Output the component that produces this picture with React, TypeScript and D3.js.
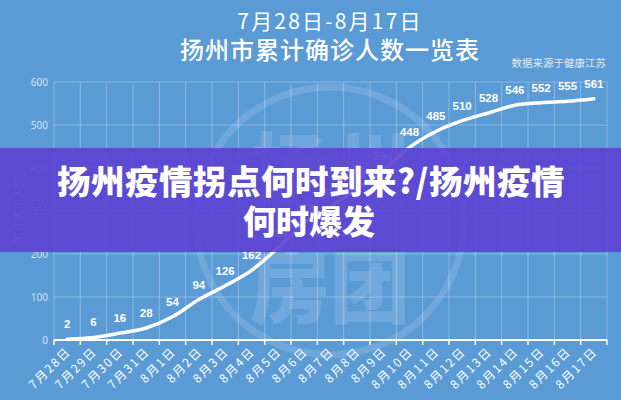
import React from "react";
import * as d3 from "d3";

const dates = [
  "7月28日", "7月29日", "7月30日", "7月31日", "8月1日", "8月2日", "8月3日",
  "8月4日", "8月5日", "8月6日", "8月7日", "8月8日", "8月9日", "8月10日",
  "8月11日", "8月12日", "8月13日", "8月14日", "8月15日", "8月16日", "8月17日",
];
const cumulative = [2, 6, 16, 28, 54, 94, 126, 162, 214, 272, 310, 352, 394, 448, 485, 510, 528, 546, 552, 555, 561];
const yTicks = [0, 100, 200, 300, 400, 500, 600];
const titleLine1 = "7月28日-8月17日";
const titleLine2 = "扬州市累计确诊人数一览表";
const sourceText = "数据来源于健康江苏";
const yAxisTitle = "累计确诊人数";
const bannerLine1 = "扬州疫情拐点何时到来?/扬州疫情";
const bannerLine2 = "何时爆发";

const W = 621;
const H = 400;
const BG = "#5a9ad5";
const CJK = "'Noto Sans CJK SC', 'Noto Sans', sans-serif";

export default function App() {
  const x = d3.scaleBand<string>().domain(dates).range([54, 607]).padding(0);
  const y = d3.scaleLinear().domain([0, 600]).range([340, 82]);
  const bw = x.bandwidth();
  const pts: [number, number][] = cumulative.map((v, i) => [x(dates[i])! + bw / 2, y(v)]);
  const line = d3.line().curve(d3.curveMonotoneX)(pts) || "";
  const boundaries = dates.map((d) => x(d)!).concat([x.range()[1]]);

  return (
    <div style={{ width: W, height: H }}>
      <style>{`body{margin:0;}`}</style>
      <svg width={W} height={H} style={{ display: "block" }}>
        <rect x={0} y={0} width={W} height={H} fill={BG} />

        {/* watermark */}
        <g opacity={0.14}>
          <circle cx={330} cy={221} r={134} fill="none" stroke="#fff" strokeWidth={7} />
          <text x={330} y={200} textAnchor="middle" fontFamily={CJK} fontWeight={900} fontSize={80} fill="#fff">扬州</text>
          <text x={330} y={316} textAnchor="middle" fontFamily={CJK} fontWeight={900} fontSize={80} fill="#fff">房团</text>
        </g>

        {/* title */}
        <text x={330} y={29} textAnchor="middle" fontFamily={CJK} fontSize={21} letterSpacing={2.2} fill="#fff">{titleLine1}</text>
        <text x={330} y={59} textAnchor="middle" fontFamily={CJK} fontWeight={500} fontSize={24} letterSpacing={1} fill="#fff">{titleLine2}</text>
        <text x={606} y={67} textAnchor="end" fontFamily={CJK} fontSize={10.5} fill="#fff" fillOpacity={0.85}>{sourceText}</text>

        {/* grid */}
        {yTicks.map((t) => (
          <line key={"h" + t} x1={54} x2={607} y1={y(t)} y2={y(t)} stroke="#fff" strokeOpacity={0.3} strokeWidth={1} />
        ))}
        {boundaries.map((bx, i) => (
          <line key={"v" + i} x1={bx} x2={bx} y1={y(600)} y2={y(0)} stroke="#fff" strokeOpacity={0.3} strokeWidth={1} />
        ))}

        {/* y axis labels */}
        {yTicks.map((t) => (
          <text key={"yl" + t} x={48} y={y(t) + 3.5} textAnchor="end" fontFamily="'Noto Sans', sans-serif" fontSize={10} fill="#fff" fillOpacity={0.75}>{t}</text>
        ))}
        <text transform={`translate(23,${210}) rotate(-90)`} textAnchor="middle" fontFamily={CJK} fontSize={11} fill="#fff" fillOpacity={0.55}>{yAxisTitle}</text>

        {/* x axis */}
        <line x1={54} x2={607} y1={y(0)} y2={y(0)} stroke="#fff" strokeWidth={2} />
        {boundaries.map((bx, i) => (
          <line key={"t" + i} x1={bx} x2={bx} y1={y(0)} y2={y(0) + 5} stroke="#fff" strokeWidth={1.5} />
        ))}
        {dates.map((d) => {
          const cx = x(d)! + bw / 2 + 2;
          return (
            <text key={"xl" + d} transform={`translate(${cx},${y(0) + 10}) rotate(-45)`} textAnchor="end" dominantBaseline="middle" fontFamily={CJK} fontSize={12} letterSpacing={1.8} fill="#fff">{d}</text>
          );
        })}

        {/* line */}
        <path d={line} fill="none" stroke="#fff" strokeWidth={3.5} strokeLinecap="round" strokeLinejoin="round" />

        {/* data labels */}
        {pts.map(([px, py], i) => (
          <text key={"dl" + i} x={px} y={py - 11} textAnchor="middle" fontFamily="'Liberation Sans Narrow', 'Liberation Sans', sans-serif" fontWeight={700} fontSize={11.5} fill="#fff">{cumulative[i]}</text>
        ))}

        {/* banner */}
        <rect x={0} y={148} width={W} height={104} fill="rgb(92,65,210)" fillOpacity={0.9} />
        <text x={311} y={194} textAnchor="middle" fontFamily={CJK} fontWeight={900} fontSize={33.5} letterSpacing={0.5} fill="#fff">{bannerLine1}</text>
        <text x={309} y={234} textAnchor="middle" fontFamily={CJK} fontWeight={900} fontSize={33} fill="#fff">{bannerLine2}</text>
      </svg>
    </div>
  );
}
